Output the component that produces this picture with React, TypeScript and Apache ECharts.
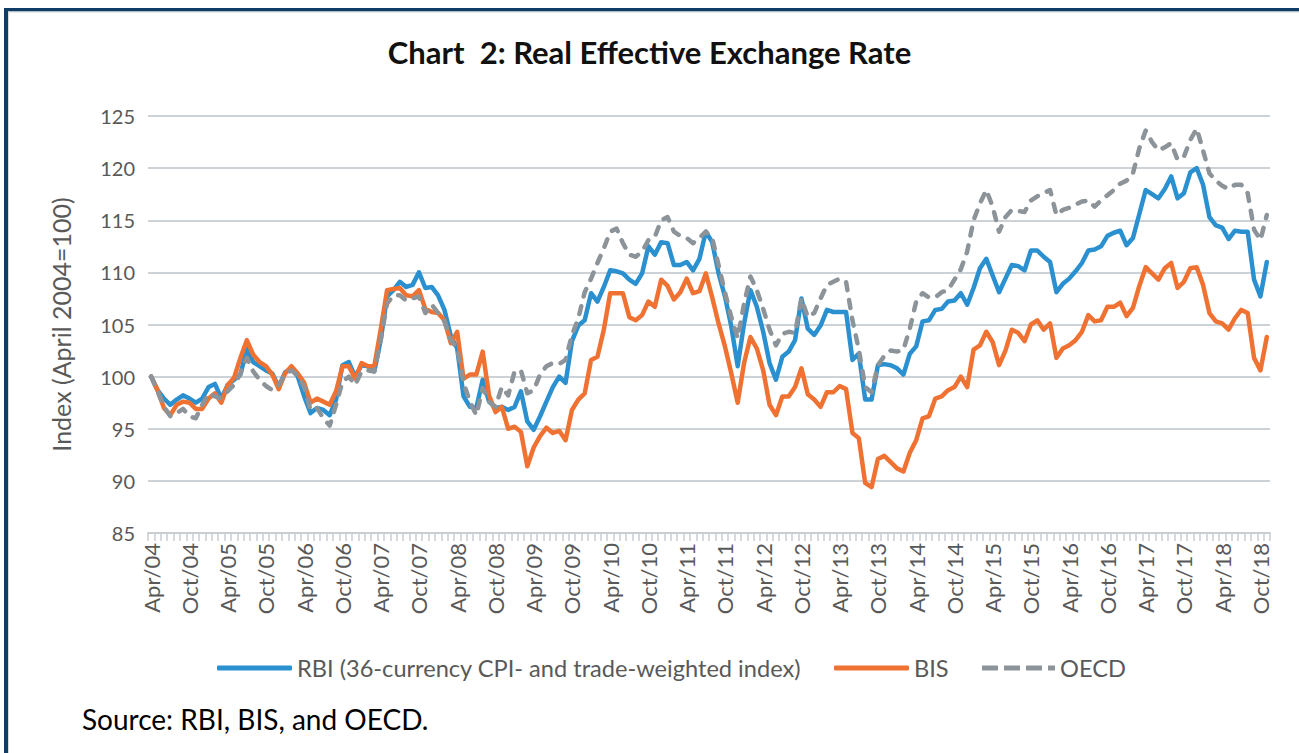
import React, { useEffect, useRef } from "react";
import * as echarts from "echarts";

const monthNames = ["Jan", "Feb", "Mar", "Apr", "May", "Jun", "Jul", "Aug", "Sep", "Oct", "Nov", "Dec"];
const startYear = 2004;
const startMonth = 3; // April (0-based)
const pointCount = 176; // Apr 2004 .. Nov 2018

const categories: string[] = [];
for (let k = 0; k < pointCount; k++) {
  const m = (startMonth + k) % 12;
  const y = startYear + Math.floor((startMonth + k) / 12);
  categories.push(`${monthNames[m]}/${String(y % 100).padStart(2, "0")}`);
}

const rbi = [
  100.0, 98.7, 97.9, 97.3, 97.8, 98.2, 97.9, 97.5, 97.9, 99.0,
  99.3, 97.9, 99.2, 99.7, 100.2, 102.7, 101.4, 101.0, 100.6, 100.3,
  99.0, 100.4, 100.8, 100.0, 98.1, 96.5, 97.0, 96.8, 96.3, 97.8,
  101.1, 101.4, 100.0, 101.1, 101.0, 100.5, 103.5, 107.7, 108.3, 109.1,
  108.6, 108.8, 110.0, 108.5, 108.6, 107.8, 106.4, 103.9, 102.7, 98.1,
  97.1, 97.0, 99.7, 97.6, 97.0, 97.1, 96.8, 97.1, 98.6, 95.7,
  94.9, 96.2, 97.6, 99.0, 100.0, 99.4, 103.4, 104.9, 105.4, 108.0,
  107.2, 108.6, 110.2, 110.1, 109.9, 109.3, 108.9, 109.9, 112.5, 111.7,
  112.9, 112.8, 110.7, 110.7, 111.0, 110.2, 111.3, 113.9, 112.9, 109.9,
  107.7, 104.8, 101.0, 105.1, 108.3, 106.7, 104.3, 101.3, 99.7, 101.9,
  102.4, 103.5, 107.5, 104.6, 104.0, 104.9, 106.4, 106.2, 106.2, 106.2,
  101.6, 102.2, 97.8, 97.8, 101.1, 101.2, 101.1, 100.8, 100.2, 102.2,
  102.9, 105.3, 105.4, 106.4, 106.5, 107.2, 107.3, 108.0, 106.9, 108.5,
  110.4, 111.3, 109.7, 108.1, 109.4, 110.7, 110.6, 110.2, 112.1, 112.1,
  111.5, 111.0, 108.1, 108.9, 109.4, 110.1, 110.9, 112.1, 112.2, 112.5,
  113.5, 113.8, 114.0, 112.6, 113.3, 115.6, 117.9, 117.5, 117.1, 118.0,
  119.2, 117.1, 117.6, 119.6, 120.0, 118.4, 115.3, 114.5, 114.3, 113.2,
  114.0, 113.9, 113.9, 109.3, 107.7, 111.0,
];

const bis = [
  100.0, 98.7, 97.0, 96.3, 97.3, 97.6, 97.5, 96.9, 96.9, 97.9,
  98.4, 97.5, 99.2, 99.9, 101.8, 103.5, 102.1, 101.4, 101.0, 100.2,
  98.8, 100.3, 101.0, 100.3, 99.4, 97.5, 97.9, 97.6, 97.3, 98.6,
  101.0, 101.0, 99.8, 101.3, 101.0, 101.0, 104.5, 108.3, 108.4, 108.5,
  107.8, 107.7, 108.3, 106.5, 106.2, 106.1, 105.4, 103.2, 104.3, 99.8,
  100.2, 100.2, 102.4, 98.2, 96.6, 97.1, 95.0, 95.2, 94.7, 91.4,
  93.2, 94.3, 95.1, 94.6, 94.8, 93.9, 96.8, 97.8, 98.4, 101.6,
  101.9, 104.5, 108.0, 108.0, 108.0, 105.7, 105.4, 105.9, 107.2, 106.7,
  109.3, 108.7, 107.4, 108.1, 109.4, 108.0, 108.2, 109.9, 107.6, 105.1,
  102.9, 100.3, 97.5, 101.3, 103.8, 102.7, 100.6, 97.3, 96.3, 98.1,
  98.1, 99.0, 100.8, 98.3, 97.8, 97.1, 98.5, 98.5, 99.1, 98.8,
  94.6, 94.1, 89.8, 89.4, 92.1, 92.4, 91.8, 91.2, 90.9, 92.7,
  93.9, 96.0, 96.2, 97.9, 98.1, 98.7, 99.0, 100.0, 99.0, 102.6,
  103.0, 104.3, 103.3, 101.1, 102.5, 104.5, 104.2, 103.4, 105.0, 105.4,
  104.5, 105.1, 101.8, 102.7, 103.0, 103.5, 104.3, 105.9, 105.3, 105.4,
  106.7, 106.7, 107.1, 105.8, 106.6, 108.7, 110.5, 109.9, 109.3, 110.4,
  110.9, 108.5, 109.1, 110.4, 110.5, 108.8, 106.1, 105.3, 105.1, 104.5,
  105.6, 106.4, 106.1, 101.8, 100.6, 103.8,
];

const oecd = [
  100.0, 98.6, 97.1, 96.2, 96.5, 96.9, 96.2, 96.0, 97.3, 98.4,
  98.1, 97.9, 98.6, 99.2, 100.3, 101.8, 100.5, 99.7, 99.1, 98.7,
  99.2, 100.2, 100.6, 100.1, 99.0, 96.8, 97.0, 96.0, 95.3, 97.3,
  99.5, 100.0, 99.2, 100.5, 100.6, 100.5, 103.5, 107.0, 107.8, 107.8,
  107.3, 107.5, 107.7, 106.1, 106.9, 106.1, 105.3, 103.5, 102.7, 99.4,
  97.6, 96.3, 98.9, 97.6, 97.1, 99.0, 98.2, 100.5, 100.6, 98.4,
  98.7, 100.2, 101.0, 101.3, 101.2, 101.6, 104.0, 105.6, 108.1, 109.4,
  110.9, 112.3, 113.9, 114.2, 112.8, 111.7, 111.5, 112.0, 113.1, 113.4,
  115.0, 115.3, 113.9, 113.5, 113.3, 112.8, 113.3, 113.9, 113.3, 110.7,
  108.1, 105.7, 103.7, 107.0, 109.6, 108.3, 106.5, 104.5, 103.0, 104.1,
  104.3, 104.2, 107.5, 105.7, 106.1, 107.5, 108.8, 109.1, 109.4, 109.1,
  105.4, 102.6, 99.0, 98.5, 101.1, 102.0, 102.5, 102.4, 102.6, 104.6,
  107.2, 108.0, 107.6, 107.6, 108.1, 108.3, 109.3, 110.3, 112.0, 115.0,
  116.6, 117.9, 116.3, 113.9, 115.3, 116.0, 115.9, 115.8, 116.9, 117.3,
  117.6, 117.9, 115.5, 116.0, 116.2, 116.5, 116.8, 116.9, 116.3, 116.9,
  117.4, 117.9, 118.5, 118.8, 119.5, 121.9, 123.6, 122.5, 121.7, 122.0,
  122.4, 120.8, 121.1, 122.7, 123.8, 121.7, 119.5, 118.8, 118.3, 118.0,
  118.4, 118.4, 117.6, 114.1, 113.1, 115.5,
];

const seriesNames = [
  "RBI (36-currency CPI- and trade-weighted index)",
  "BIS",
  "OECD",
];
const yTicks = { min: 85, max: 125, interval: 5 };

const FONT = "Lato, 'Open Sans', sans-serif";
const BLUE = "#2B90CF";
const ORANGE = "#F07232";
const GREY = "#8D9499";
const TEXT_GREY = "#595959";

const dashedIcon = "path://M0,0h16v5h-16zM22,0h16v5h-16zM44,0h16v5h-16zM66,0h7v5h-7z";

export default function App() {
  const ref = useRef<HTMLDivElement>(null);

  useEffect(() => {
    if (!ref.current) return;
    const chart = echarts.init(ref.current, undefined, { renderer: "svg" });
    const legendBase = {
      top: 651,
      itemHeight: 5,
      itemGap: 0,
      itemStyle: { borderWidth: 0 },
      textStyle: { fontSize: 23.6, color: TEXT_GREY, fontFamily: FONT },
      selectedMode: false,
    };
    chart.setOption({
      animation: false,
      backgroundColor: "#ffffff",
      textStyle: { fontFamily: FONT },
      title: {
        text: "Chart  2: Real Effective Exchange Rate",
        left: "center",
        top: 31,
        textStyle: { fontSize: 31, fontWeight: "bold", color: "#111111", fontFamily: FONT },
      },
      legend: [
        { ...legendBase, data: [seriesNames[0]], left: 212, itemWidth: 75, icon: "roundRect" },
        { ...legendBase, data: [seriesNames[1]], left: 829, itemWidth: 75, icon: "roundRect" },
        { ...legendBase, data: [seriesNames[2]], left: 977, itemWidth: 73, icon: dashedIcon },
      ],
      grid: { left: 148, top: 116, width: 1122, height: 417, containLabel: false },
      xAxis: {
        type: "category",
        data: categories,
        boundaryGap: true,
        axisLine: { show: true, lineStyle: { color: "#C9CED3", width: 2 } },
        axisTick: { show: true, interval: 0, length: 8, lineStyle: { color: "#C9CED3", width: 1.5 } },
        axisLabel: {
          interval: 5,
          rotate: 90,
          margin: 10,
          fontSize: 22,
          color: TEXT_GREY,
          fontFamily: FONT,
        },
        splitLine: { show: false },
      },
      yAxis: {
        type: "value",
        min: yTicks.min,
        max: yTicks.max,
        interval: yTicks.interval,
        name: "Index (April 2004=100)",
        nameLocation: "middle",
        nameRotate: 90,
        nameGap: 75,
        nameTextStyle: { fontSize: 25, color: TEXT_GREY, fontFamily: FONT },
        axisLine: { show: false },
        axisTick: { show: false },
        axisLabel: { margin: 13, fontSize: 20, color: TEXT_GREY, fontFamily: FONT },
        splitLine: { show: true, lineStyle: { color: "#CDD2D6", width: 2 } },
      },
      series: [
        {
          name: seriesNames[0],
          type: "line",
          data: rbi,
          symbol: "none",
          lineStyle: { width: 4.5, color: BLUE, join: "round", cap: "round" },
          itemStyle: { color: BLUE },
        },
        {
          name: seriesNames[1],
          type: "line",
          data: bis,
          symbol: "none",
          lineStyle: { width: 4.5, color: ORANGE, join: "round", cap: "round" },
          itemStyle: { color: ORANGE },
        },
        {
          name: seriesNames[2],
          type: "line",
          data: oecd,
          symbol: "none",
          lineStyle: { width: 4.5, color: GREY, type: [8, 10], cap: "round", join: "round" },
          itemStyle: { color: GREY },
        },
      ],
      graphic: [
        { type: "rect", shape: { x: 4, y: 8, width: 1295, height: 3.5 }, style: { fill: "#0F3D68" } },
        { type: "rect", shape: { x: 4, y: 8, width: 4, height: 745 }, style: { fill: "#0F3D68" } },
        { type: "rect", shape: { x: 8, y: 11.5, width: 1291, height: 1 }, style: { fill: "#D9D9D9" } },
        { type: "rect", shape: { x: 8, y: 11.5, width: 1, height: 742 }, style: { fill: "#D9D9D9" } },
        {
          type: "text",
          left: 82,
          top: 705,
          style: { text: "Source: RBI, BIS, and OECD.", fontSize: 28, fill: "#000000", fontFamily: FONT },
        },
      ],
    });
    return () => chart.dispose();
  }, []);

  return (
    <div
      ref={ref}
      style={{ position: "absolute", left: 0, top: 0, width: 1299, height: 753, background: "#fff" }}
    />
  );
}
